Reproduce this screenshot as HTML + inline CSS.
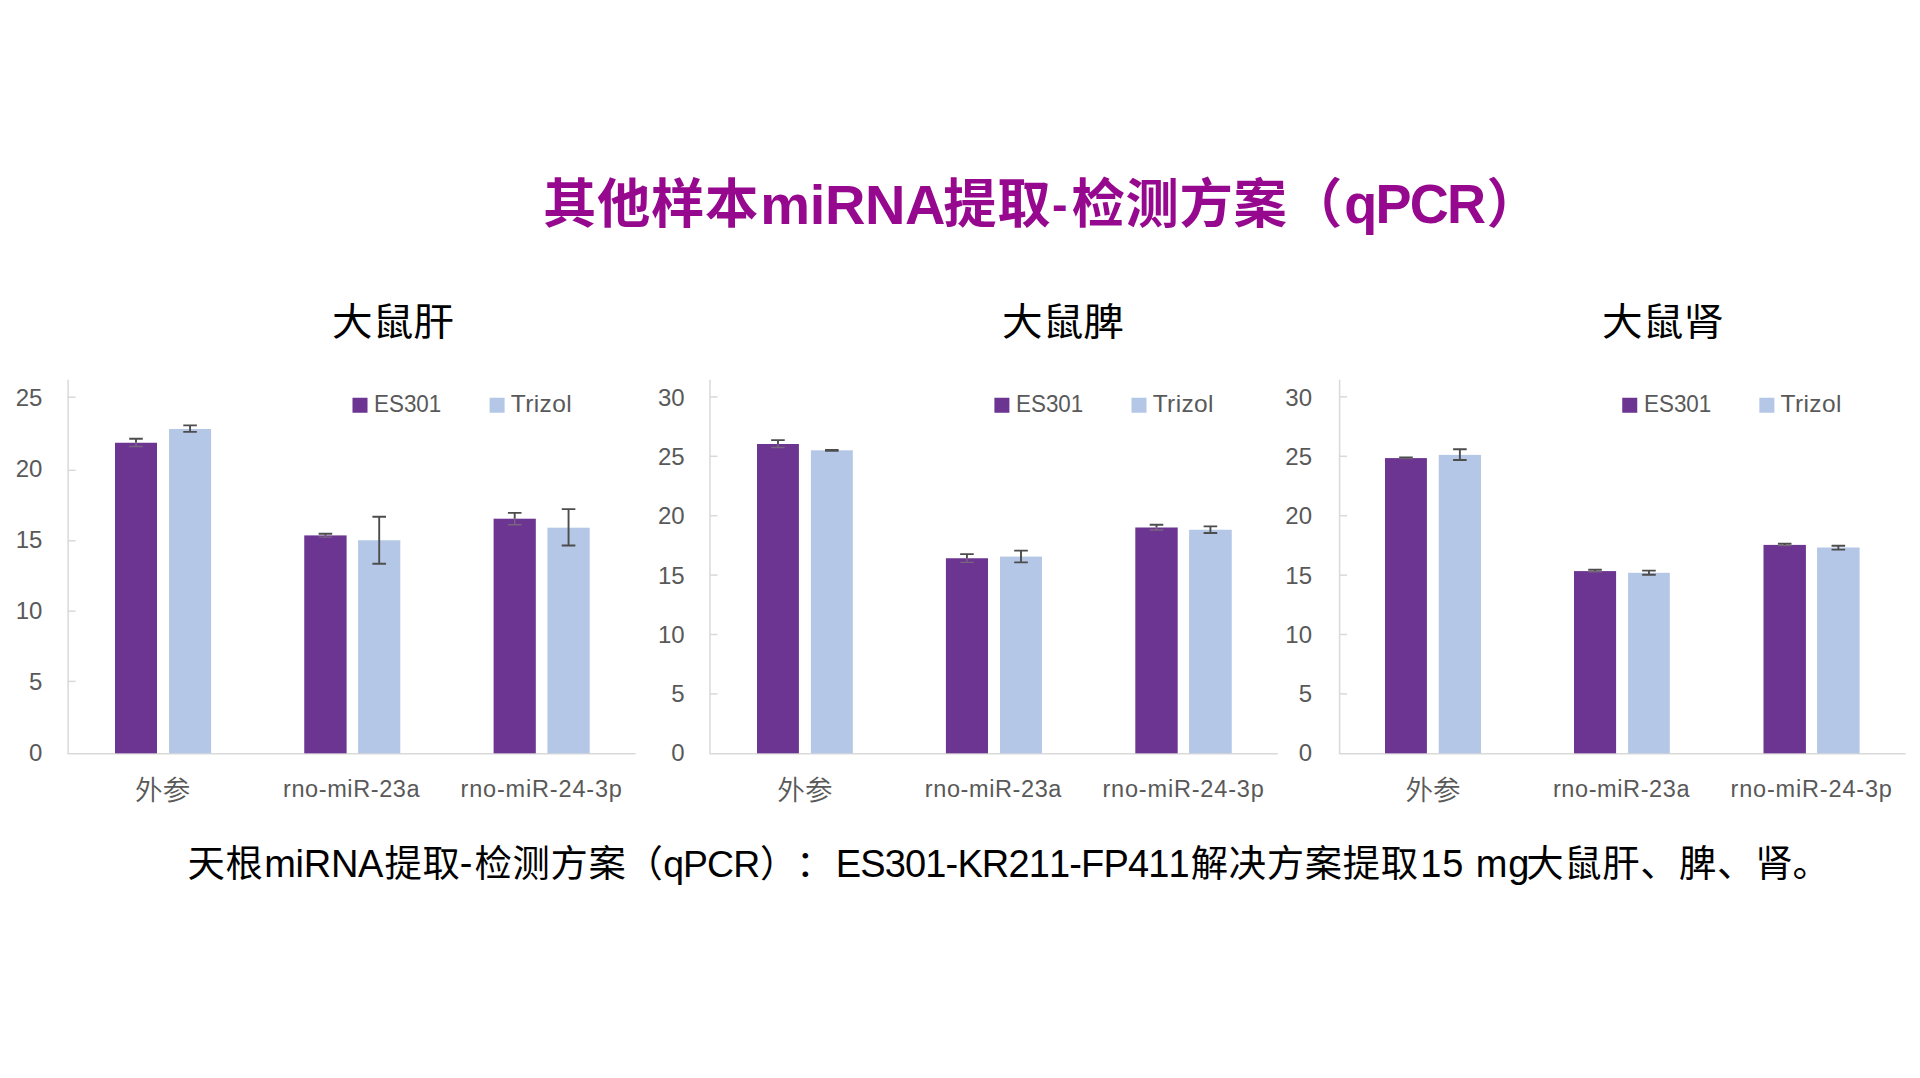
<!DOCTYPE html>
<html lang="zh-CN"><head><meta charset="utf-8"><title>其他样本miRNA提取-检测方案（qPCR）</title>
<style>
html,body{margin:0;padding:0;background:#fff;}
body{width:1920px;height:1078px;position:relative;overflow:hidden;font-family:"Liberation Sans", "Noto Sans CJK SC", sans-serif;}
svg{position:absolute;left:0;top:0;}
.t{position:absolute;white-space:nowrap;font-family:"Liberation Sans", "Noto Sans CJK SC", sans-serif;}
.ttl{left:544px;top:164px;font-size:53.33px;line-height:80px;font-weight:bold;color:#96088E;}
.ct{top:291.6px;font-size:40px;line-height:58px;color:#000;transform:scale(1.016,0.95);transform-origin:0 48px;}
.lg{font-size:24px;line-height:30px;color:#595959;}
.yl{width:60px;text-align:right;font-size:24px;line-height:28px;color:#595959;}
.xl{width:200px;text-align:center;top:774px;font-size:23.5px;line-height:30px;color:#595959;}
.xl.cj{font-size:27.6px;font-weight:350;top:772.8px;line-height:36px;}
.xa{letter-spacing:0.6px;text-indent:0.6px;margin-left:-0.9px;}
.xb{letter-spacing:0.825px;text-indent:0.825px;margin-left:-0.3px;}
.lga{font-size:24.5px;transform:scaleX(0.915);transform-origin:0 0;margin-left:-0.9px;}
.lgb{font-size:24.5px;letter-spacing:0.37px;margin-left:0.5px;}
.cap{left:187px;top:836.9px;font-size:37.33px;line-height:54px;color:#000;}
.ttl,.cap{text-spacing-trim:space-all;font-kerning:none;}
#t_0{letter-spacing:0.67px;margin-left:-1.00px}
#t_a{font-size:56.0px;position:relative;top:0.8px;letter-spacing:-0.400px;margin-left:1.35px}
#t_1{letter-spacing:0.67px;margin-left:-1.85px}
#t_b{font-size:46.5px;position:relative;top:-2.6px;margin-left:0.90px}
#t_2{letter-spacing:0.67px;margin-left:3.85px}
#t_p1{letter-spacing:0.67px;display:inline-block;margin-left:1.65px}
#t_c{font-size:54.0px;position:relative;top:-0.4px;display:inline-block;line-height:1;transform:scaleY(1.04);transform-origin:0 45.7px;letter-spacing:-1.750px;margin-left:1.10px}
#t_p2{letter-spacing:0.67px;display:inline-block;margin-left:2.45px}
#c_0{letter-spacing:0.67px;margin-left:0.40px}
#c_a{font-size:38.0px;letter-spacing:-0.275px;margin-left:0.80px}
#c_1{letter-spacing:0.67px;margin-left:1.45px}
#c_b{font-size:38.0px;position:relative;top:-1px;margin-left:-0.90px}
#c_2{letter-spacing:0.67px;margin-left:2.05px}
#c_p1{letter-spacing:0.67px;display:inline-block;margin-left:-0.90px}
#c_c{font-size:37.33px;letter-spacing:-0.900px;margin-left:-0.25px}
#c_p2{letter-spacing:0.67px;display:inline-block;margin-left:0.75px}
#c_p3{letter-spacing:0.67px;display:inline-block;margin-left:-1.90px}
#c_d{font-size:38.0px;letter-spacing:-0.859px;margin-left:-8.00px}
#c_3{letter-spacing:0.67px;margin-left:1.90px}
#c_e{font-size:38.0px;letter-spacing:0.913px;margin-left:1.60px}
#c_4{letter-spacing:0.67px;margin-left:-4.10px}
#c_5{letter-spacing:0.67px;margin-left:-0.15px}
#c_6{letter-spacing:0.67px;margin-left:0.80px}
#c_7{letter-spacing:0.67px;margin-left:-0.10px}
#c_8{letter-spacing:0.67px;margin-left:0.35px}
#c_9{letter-spacing:0.67px;margin-left:-0.80px}
</style></head>
<body>
<svg width="1920" height="1078" viewBox="0 0 1920 1078" shape-rendering="auto">
<path d="M68.10 379.7 V754.50 M67.35 753.75 H635.60" stroke="#D9D9D9" stroke-width="1.5" fill="none"/>
<path d="M68.10 397.20 h7.5" stroke="#D9D9D9" stroke-width="1.5"/>
<path d="M68.10 470.30 h7.5" stroke="#D9D9D9" stroke-width="1.5"/>
<path d="M68.10 540.80 h7.5" stroke="#D9D9D9" stroke-width="1.5"/>
<path d="M68.10 611.10 h7.5" stroke="#D9D9D9" stroke-width="1.5"/>
<path d="M68.10 681.40 h7.5" stroke="#D9D9D9" stroke-width="1.5"/>
<rect x="115.00" y="442.75" width="42.00" height="310.55" fill="#6B3591"/>
<rect x="169.05" y="429.00" width="42.05" height="324.30" fill="#B4C7E7"/>
<rect x="304.25" y="535.40" width="42.35" height="217.90" fill="#6B3591"/>
<rect x="358.10" y="540.25" width="42.20" height="213.05" fill="#B4C7E7"/>
<rect x="493.60" y="518.70" width="42.20" height="234.60" fill="#6B3591"/>
<rect x="547.40" y="527.70" width="42.30" height="225.60" fill="#B4C7E7"/>
<path d="M129.20 446.50 h13.6 M136.00 442.75 V446.50" stroke="#7A657F" stroke-width="1.4" fill="none"/>
<path d="M129.20 438.75 h13.6 M136.00 438.75 V442.75" stroke="#4D4D4D" stroke-width="1.9" fill="none"/>
<path d="M183.27 425.40 h13.6 M183.27 431.90 h13.6 M190.07 425.40 V431.90" stroke="#4D4D4D" stroke-width="1.9" fill="none"/>
<path d="M318.62 537.10 h13.6 M325.43 535.40 V537.10" stroke="#7A657F" stroke-width="1.4" fill="none"/>
<path d="M318.62 533.70 h13.6 M325.43 533.70 V535.40" stroke="#4D4D4D" stroke-width="1.9" fill="none"/>
<path d="M372.40 516.80 h13.6 M372.40 563.70 h13.6 M379.20 516.80 V563.70" stroke="#4D4D4D" stroke-width="1.9" fill="none"/>
<path d="M507.90 524.70 h13.6 M514.70 518.70 V524.70" stroke="#7A657F" stroke-width="1.4" fill="none"/>
<path d="M507.90 512.90 h13.6 M514.70 512.90 V518.70" stroke="#4D4D4D" stroke-width="1.9" fill="none"/>
<path d="M561.75 509.10 h13.6 M561.75 545.50 h13.6 M568.55 509.10 V545.50" stroke="#4D4D4D" stroke-width="1.9" fill="none"/>
<rect x="352.50" y="397.75" width="15" height="15" fill="#6B3591"/>
<rect x="489.60" y="397.75" width="15" height="15" fill="#B4C7E7"/>
<path d="M710.00 379.7 V754.50 M709.25 753.75 H1277.75" stroke="#D9D9D9" stroke-width="1.5" fill="none"/>
<path d="M710.00 396.90 h7.5" stroke="#D9D9D9" stroke-width="1.5"/>
<path d="M710.00 456.30 h7.5" stroke="#D9D9D9" stroke-width="1.5"/>
<path d="M710.00 515.70 h7.5" stroke="#D9D9D9" stroke-width="1.5"/>
<path d="M710.00 575.10 h7.5" stroke="#D9D9D9" stroke-width="1.5"/>
<path d="M710.00 634.50 h7.5" stroke="#D9D9D9" stroke-width="1.5"/>
<path d="M710.00 693.90 h7.5" stroke="#D9D9D9" stroke-width="1.5"/>
<rect x="757.00" y="444.00" width="41.90" height="309.30" fill="#6B3591"/>
<rect x="810.90" y="450.30" width="41.90" height="303.00" fill="#B4C7E7"/>
<rect x="945.90" y="558.25" width="42.10" height="195.05" fill="#6B3591"/>
<rect x="1000.00" y="556.60" width="42.00" height="196.70" fill="#B4C7E7"/>
<rect x="1135.30" y="527.50" width="42.40" height="225.80" fill="#6B3591"/>
<rect x="1189.10" y="529.75" width="42.65" height="223.55" fill="#B4C7E7"/>
<path d="M771.15 447.50 h13.6 M777.95 444.00 V447.50" stroke="#7A657F" stroke-width="1.4" fill="none"/>
<path d="M771.15 440.10 h13.6 M777.95 440.10 V444.00" stroke="#4D4D4D" stroke-width="1.9" fill="none"/>
<path d="M825.05 449.90 h13.6 M825.05 450.70 h13.6 M831.85 449.90 V450.70" stroke="#4D4D4D" stroke-width="1.9" fill="none"/>
<path d="M960.15 562.40 h13.6 M966.95 558.25 V562.40" stroke="#7A657F" stroke-width="1.4" fill="none"/>
<path d="M960.15 554.10 h13.6 M966.95 554.10 V558.25" stroke="#4D4D4D" stroke-width="1.9" fill="none"/>
<path d="M1014.20 550.60 h13.6 M1014.20 562.40 h13.6 M1021.00 550.60 V562.40" stroke="#4D4D4D" stroke-width="1.9" fill="none"/>
<path d="M1149.70 530.00 h13.6 M1156.50 527.50 V530.00" stroke="#7A657F" stroke-width="1.4" fill="none"/>
<path d="M1149.70 524.70 h13.6 M1156.50 524.70 V527.50" stroke="#4D4D4D" stroke-width="1.9" fill="none"/>
<path d="M1203.62 526.40 h13.6 M1203.62 533.00 h13.6 M1210.42 526.40 V533.00" stroke="#4D4D4D" stroke-width="1.9" fill="none"/>
<rect x="994.40" y="397.75" width="15" height="15" fill="#6B3591"/>
<rect x="1131.50" y="397.75" width="15" height="15" fill="#B4C7E7"/>
<path d="M1339.60 379.7 V754.50 M1338.85 753.75 H1905.60" stroke="#D9D9D9" stroke-width="1.5" fill="none"/>
<path d="M1339.60 396.90 h7.5" stroke="#D9D9D9" stroke-width="1.5"/>
<path d="M1339.60 456.30 h7.5" stroke="#D9D9D9" stroke-width="1.5"/>
<path d="M1339.60 515.70 h7.5" stroke="#D9D9D9" stroke-width="1.5"/>
<path d="M1339.60 575.10 h7.5" stroke="#D9D9D9" stroke-width="1.5"/>
<path d="M1339.60 634.50 h7.5" stroke="#D9D9D9" stroke-width="1.5"/>
<path d="M1339.60 693.90 h7.5" stroke="#D9D9D9" stroke-width="1.5"/>
<rect x="1385.00" y="458.10" width="41.90" height="295.20" fill="#6B3591"/>
<rect x="1438.75" y="454.90" width="42.25" height="298.40" fill="#B4C7E7"/>
<rect x="1574.00" y="571.10" width="42.10" height="182.20" fill="#6B3591"/>
<rect x="1628.10" y="572.80" width="41.70" height="180.50" fill="#B4C7E7"/>
<rect x="1763.50" y="544.90" width="42.40" height="208.40" fill="#6B3591"/>
<rect x="1817.10" y="547.50" width="42.50" height="205.80" fill="#B4C7E7"/>
<path d="M1399.15 458.60 h13.6 M1405.95 458.10 V458.60" stroke="#7A657F" stroke-width="1.4" fill="none"/>
<path d="M1399.15 457.40 h13.6 M1405.95 457.40 V458.10" stroke="#4D4D4D" stroke-width="1.9" fill="none"/>
<path d="M1453.08 449.30 h13.6 M1453.08 460.00 h13.6 M1459.88 449.30 V460.00" stroke="#4D4D4D" stroke-width="1.9" fill="none"/>
<path d="M1588.25 571.80 h13.6 M1595.05 571.10 V571.80" stroke="#7A657F" stroke-width="1.4" fill="none"/>
<path d="M1588.25 569.80 h13.6 M1595.05 569.80 V571.10" stroke="#4D4D4D" stroke-width="1.9" fill="none"/>
<path d="M1642.15 570.60 h13.6 M1642.15 574.70 h13.6 M1648.95 570.60 V574.70" stroke="#4D4D4D" stroke-width="1.9" fill="none"/>
<path d="M1777.90 545.60 h13.6 M1784.70 544.90 V545.60" stroke="#7A657F" stroke-width="1.4" fill="none"/>
<path d="M1777.90 543.75 h13.6 M1784.70 543.75 V544.90" stroke="#4D4D4D" stroke-width="1.9" fill="none"/>
<path d="M1831.55 545.80 h13.6 M1831.55 549.60 h13.6 M1838.35 545.80 V549.60" stroke="#4D4D4D" stroke-width="1.9" fill="none"/>
<rect x="1622.25" y="397.75" width="15" height="15" fill="#6B3591"/>
<rect x="1759.35" y="397.75" width="15" height="15" fill="#B4C7E7"/>
</svg>
<div class="t ttl" id="ttl"><span id="t_0">其他样本</span><span class="la" id="t_a">miRNA</span><span id="t_1">提取</span><span class="la" id="t_b">-</span><span id="t_2">检测方案</span><span id="t_p1">（</span><span class="la" id="t_c">qPCR</span><span id="t_p2">）</span></div>
<div class="t lg lga" id="lg0a" style="left:374.70px;top:389px">ES301</div>
<div class="t lg lgb" id="lg0b" style="left:510.30px;top:389px">Trizol</div>
<div class="t yl" id="y0_0" style="left:-17.60px;top:384px">25</div>
<div class="t yl" id="y0_1" style="left:-17.60px;top:455px">20</div>
<div class="t yl" id="y0_2" style="left:-17.60px;top:526px">15</div>
<div class="t yl" id="y0_3" style="left:-17.60px;top:597px">10</div>
<div class="t yl" id="y0_4" style="left:-17.60px;top:668px">5</div>
<div class="t yl" id="y0_5" style="left:-17.60px;top:739px">0</div>
<div class="t xl cj" id="x0_0" style="left:62.70px">外参</div>
<div class="t xl xa" id="x0_1" style="left:252.20px">rno-miR-23a</div>
<div class="t xl xb" id="x0_2" style="left:441.50px">rno-miR-24-3p</div>
<div class="t ct" id="ct0" style="left:331.60px">大鼠肝</div>
<div class="t lg lga" id="lg1a" style="left:1016.60px;top:389px">ES301</div>
<div class="t lg lgb" id="lg1b" style="left:1152.20px;top:389px">Trizol</div>
<div class="t yl" id="y1_0" style="left:624.60px;top:384px">30</div>
<div class="t yl" id="y1_1" style="left:624.60px;top:443px">25</div>
<div class="t yl" id="y1_2" style="left:624.60px;top:502px">20</div>
<div class="t yl" id="y1_3" style="left:624.60px;top:562px">15</div>
<div class="t yl" id="y1_4" style="left:624.60px;top:621px">10</div>
<div class="t yl" id="y1_5" style="left:624.60px;top:680px">5</div>
<div class="t yl" id="y1_6" style="left:624.60px;top:739px">0</div>
<div class="t xl cj" id="x1_0" style="left:704.90px">外参</div>
<div class="t xl xa" id="x1_1" style="left:894.00px">rno-miR-23a</div>
<div class="t xl xb" id="x1_2" style="left:1083.40px">rno-miR-24-3p</div>
<div class="t ct" id="ct1" style="left:1001.60px">大鼠脾</div>
<div class="t lg lga" id="lg2a" style="left:1644.45px;top:389px">ES301</div>
<div class="t lg lgb" id="lg2b" style="left:1780.05px;top:389px">Trizol</div>
<div class="t yl" id="y2_0" style="left:1252.00px;top:384px">30</div>
<div class="t yl" id="y2_1" style="left:1252.00px;top:443px">25</div>
<div class="t yl" id="y2_2" style="left:1252.00px;top:502px">20</div>
<div class="t yl" id="y2_3" style="left:1252.00px;top:562px">15</div>
<div class="t yl" id="y2_4" style="left:1252.00px;top:621px">10</div>
<div class="t yl" id="y2_5" style="left:1252.00px;top:680px">5</div>
<div class="t yl" id="y2_6" style="left:1252.00px;top:739px">0</div>
<div class="t xl cj" id="x2_0" style="left:1333.00px">外参</div>
<div class="t xl xa" id="x2_1" style="left:1522.10px">rno-miR-23a</div>
<div class="t xl xb" id="x2_2" style="left:1711.50px">rno-miR-24-3p</div>
<div class="t ct" id="ct2" style="left:1601.60px">大鼠肾</div>
<div class="t cap" id="cap"><span id="c_0">天根</span><span class="la" id="c_a">miRNA</span><span id="c_1">提取</span><span class="la" id="c_b">-</span><span id="c_2">检测方案</span><span id="c_p1">（</span><span class="la" id="c_c">qPCR</span><span id="c_p2">）</span><span id="c_p3">：</span><span class="la" id="c_d"> ES301-KR211-FP411</span><span id="c_3">解决方案提取</span><span class="la" id="c_e">15 mg</span><span id="c_4">大鼠肝</span><span id="c_5">、</span><span id="c_6">脾</span><span id="c_7">、</span><span id="c_8">肾</span><span id="c_9">。</span></div>
</body></html>
